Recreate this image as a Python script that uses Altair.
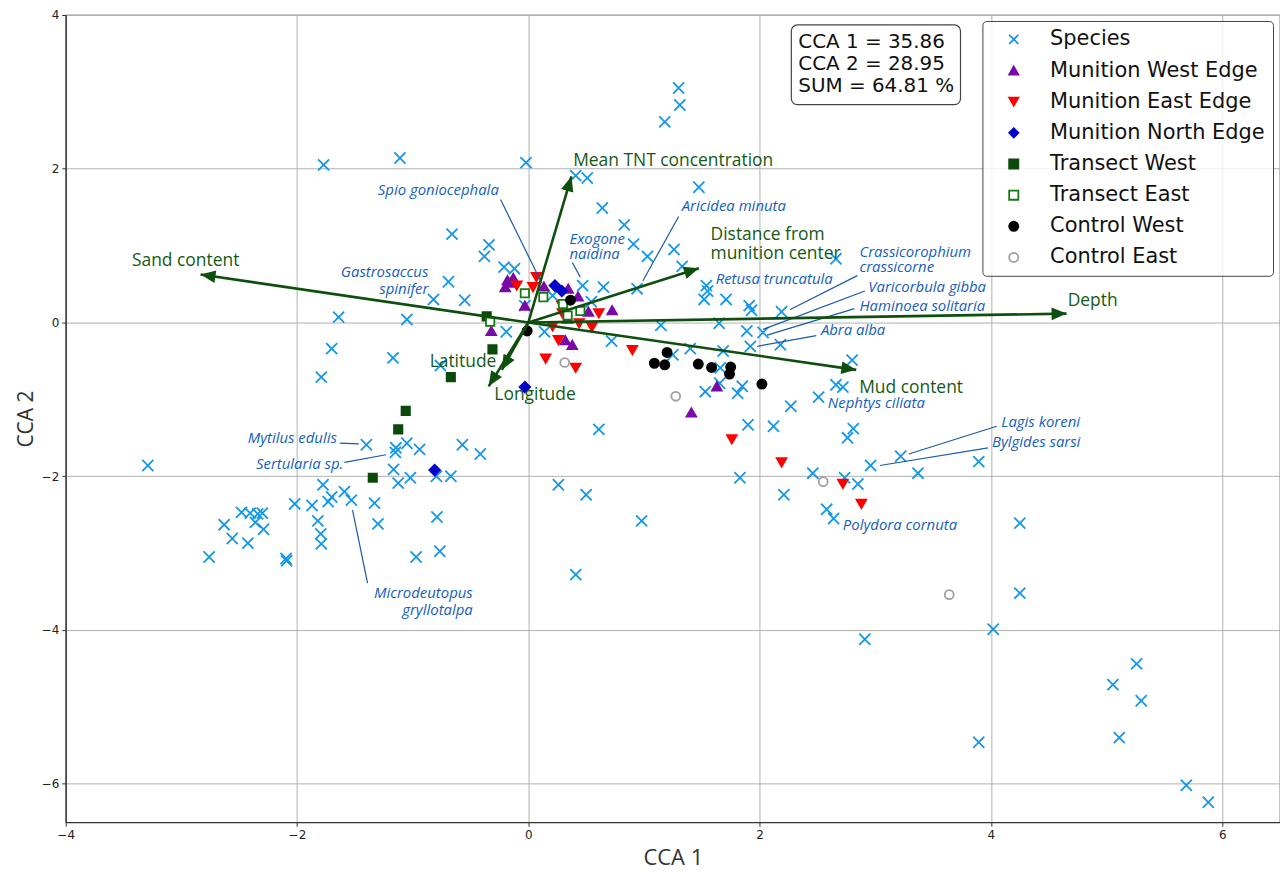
import math
import altair as alt
import pandas as pd

# ---------------- data ----------------
species_x = [1.30, 1.31, 1.18, -0.02, -1.11, -1.77, 0.41, 0.51, 1.475, 0.64,
             0.83, 0.91, 1.03, 1.26, 1.33, 2.66, 1.54, 1.55, 1.52, 1.71,
             1.91, 1.93, 2.19, 0.47, 0.65, 0.94, 0.545, 1.146, 1.65, 0.14,
             -0.66, -0.34, -0.38, -0.21, -0.12, -0.69, -0.82, -0.55, -1.64, -1.05,
             -0.03, -0.19, 0.72, 1.40, -0.76, 0.21,
             1.685, 1.92, 1.89, 2.03, 2.18, 1.25, 1.66, 1.655, 1.53, 1.85,
             1.81, 2.80, 2.66, 2.72, 2.51, 2.27, 1.90, 2.12, 2.81, 2.76,
             0.61, 3.22, 2.96, 3.37, 2.46, 1.83, 2.735, 2.85, 0.26, 0.50,
             2.21, 2.58, 2.64, 0.98, 0.41, 2.91,
             3.895, 4.25, 4.25, 4.02, 5.26, 5.055, 5.30, 5.11, 3.895, 5.69, 5.88,
             -1.70, -1.17, -1.79, -1.40, -1.145, -1.05, -1.15, -0.94, -0.57, -0.415,
             -3.29, -1.165, -1.02, -1.125, -0.795, -0.67, -1.775, -1.59, -1.53, -1.70,
             -1.73, -2.02, -1.87, -1.33, -1.30, -2.48, -2.405, -2.34, -2.30, -2.36,
             -2.63, -2.29, -2.56, -2.425, -1.82, -1.795, -1.79, -2.76, -2.095, -2.09,
             -0.79, -0.765, -0.97]
species_y = [3.05, 2.83, 2.61, 2.08, 2.14, 2.05, 1.91, 1.88, 1.76, 1.49,
             1.27, 1.02, 0.86, 0.95, 0.73, 0.83, 0.48, 0.41, 0.30, 0.30,
             0.22, 0.16, 0.14, 0.48, 0.46, 0.44, 0.27, -0.035, -0.01, -0.12,
             1.15, 1.01, 0.86, 0.72, 0.70, 0.53, 0.30, 0.29, 0.07, 0.04,
             0.22, -0.12, -0.24, -0.34, -0.56, 0.35,
             -0.37, -0.31, -0.11, -0.13, -0.29, -0.42, -0.59, -0.79, -0.90, -0.83,
             -0.92, -0.49, -0.81, -0.84, -0.97, -1.09, -1.33, -1.35, -1.38, -1.50,
             -1.39, -1.74, -1.86, -1.96, -1.96, -2.02, -2.02, -2.10, -2.11, -2.24,
             -2.24, -2.43, -2.55, -2.58, -3.28, -4.12,
             -1.81, -2.61, -3.52, -3.99, -4.44, -4.71, -4.92, -5.40, -5.46, -6.02, -6.24,
             -0.34, -0.46, -0.71, -1.59, -1.63, -1.57, -1.69, -1.65, -1.59, -1.71,
             -1.86, -1.91, -2.02, -2.09, -2.00, -2.00, -2.11, -2.20, -2.31, -2.27,
             -2.33, -2.36, -2.38, -2.35, -2.62, -2.47, -2.48, -2.49, -2.48, -2.60,
             -2.63, -2.69, -2.81, -2.87, -2.58, -2.75, -2.88, -3.05, -3.07, -3.10,
             -2.53, -2.975, -3.05]

west_edge_x = [-0.20, -0.15, -0.13, -0.18, -0.03, -0.32, 0.135, 0.345, 0.43, 0.52, 0.725, 0.34, 0.32, 0.38, 1.63, 1.41]
west_edge_y = [0.46, 0.52, 0.58, 0.55, 0.22, -0.11, 0.47, 0.44, 0.34, 0.14, 0.16, 0.05, -0.23, -0.29, -0.83, -1.17]

east_edge_x = [-0.10, 0.07, 0.04, 0.29, 0.295, 0.26, 0.15, 0.41, 0.61, 0.55, 0.44, 0.90, 0.21, 1.76, 2.19, 2.72, 2.88]
east_edge_y = [0.48, 0.59, 0.46, 0.22, 0.12, -0.23, -0.47, -0.59, 0.12, -0.06, -0.01, -0.36, -0.05, -1.52, -1.82, -2.10, -2.36]

north_edge_x = [0.23, 0.29, -0.03, -0.81]
north_edge_y = [0.48, 0.41, -0.84, -1.92]

transect_west_x = [-0.36, -0.31, -0.67, -1.06, -1.125, -1.345]
transect_west_y = [0.08, -0.35, -0.71, -1.15, -1.39, -2.02]

transect_east_x = [-0.33, -0.03, 0.13, 0.30, 0.45, 0.34]
transect_east_y = [0.01, 0.38, 0.33, 0.24, 0.15, 0.09]

control_west_x = [0.365, -0.01, 1.20, 1.09, 1.18, 1.47, 1.585, 1.75, 1.74, 2.02]
control_west_y = [0.29, -0.11, -0.39, -0.53, -0.55, -0.54, -0.585, -0.58, -0.67, -0.80]

control_east_x = [0.315, 1.275, 2.55, 3.64]
control_east_y = [-0.52, -0.96, -2.07, -3.54]

groups = ["Species", "Munition West Edge", "Munition East Edge", "Munition North Edge",
          "Transect West", "Transect East", "Control West", "Control East"]

# environmental vectors (arrow tips) and their label positions
env_names = ["Sand content", "Mean TNT concentration", "Distance from munition center",
             "Depth", "Mud content", "Latitude", "Longitude"]
env_x = [-2.834, 0.373, 1.475, 4.654, 2.836, -0.229, -0.343]
env_y = [0.624, 1.90, 0.707, 0.116, -0.616, -0.616, -0.83]
env_label_text = ["Sand content", "Mean TNT concentration", "Distance from\nmunition center",
                  "Depth", "Mud content", "Latitude", "Longitude"]
env_label_x = [-2.963, 1.253, 1.576, 4.88, 3.31, -0.565, 0.058]
env_label_y = [0.805, 2.106, 1.14, 0.28, -0.85, -0.52, -0.94]
env_label_align = ["center", "center", "left", "center", "center", "center", "center"]

# species annotations (y = first text line)
sp_label_text = ["Spio goniocephala", "Exogone\nnaidina", "Aricidea minuta", "Gastrosaccus\nspinifer",
                 "Crassicorophium\ncrassicorne", "Retusa truncatula", "Varicorbula gibba",
                 "Haminoea solitaria", "Abra alba", "Nephtys ciliata", "Lagis koreni",
                 "Bylgides sarsi", "Polydora cornuta", "Mytilus edulis", "Sertularia sp.",
                 "Microdeutopus\ngryllotalpa"]
sp_label_x = [-0.255, 0.356, 1.327, -0.864, 2.863, 1.62, 2.94, 2.863, 2.53, 2.59,
              4.09, 4.01, 2.72, -1.655, -1.60, -0.48]
sp_label_y = [1.72, 1.085, 1.52, 0.66, 0.917, 0.57, 0.465, 0.22, -0.10, -1.05,
              -1.30, -1.56, -2.64, -1.50, -1.84, -3.52]
sp_label_align = ["right", "left", "left", "right", "left", "left", "left", "left", "left", "left",
                  "left", "left", "left", "right", "right", "right"]

lead_x1 = [-0.24, 0.38, 1.30, 2.845, 2.91, 2.82, 2.49, 4.05, 3.975, -1.63, -1.59, -1.39]
lead_y1 = [1.60, 0.78, 1.38, 0.61, 0.41, 0.18, -0.17, -1.35, -1.63, -1.57, -1.82, -3.39]
lead_x2 = [0.115, 0.45, 0.99, 2.265, 2.03, 2.065, 1.98, 3.29, 3.04, -1.466, -1.23, -1.52]
lead_y2 = [0.515, 0.59, 0.54, 0.17, -0.09, -0.165, -0.31, -1.71, -1.86, -1.578, -1.72, -2.44]

box_lines = ["CCA 1 = 35.86", "CCA 2 = 28.95", "SUM = 64.81 %"]

# ---------------- styling ----------------
W, H = 1220, 811
X_DOM = [-4, 6.5]
Y_DOM = [-6.5, 4]
X_PATH = "M-1,-1L1,1M1,-1L-1,1"
shapes = [X_PATH, "triangle-up", "triangle-down", "diamond", "square", "square", "circle", "circle"]
strokes = ["#1597e8", "#7a0aa8", "#ff0000", "#0000cc", "#0a4a0a", "#137a13", "#000000", "#a0a0a0"]
fills = ["transparent", "#7a0aa8", "#ff0000", "#0000cc", "#0a4a0a", "#ffffff", "#000000", "#ffffff"]
sizes = [125, 95, 95, 115, 70, 70, 85, 80]
ARROW = "#0e4f0e"
ENV_TXT = "#145a14"
SP_TXT = "#1560bd"

series = [(groups[0], species_x, species_y), (groups[1], west_edge_x, west_edge_y),
          (groups[2], east_edge_x, east_edge_y), (groups[3], north_edge_x, north_edge_y),
          (groups[4], transect_west_x, transect_west_y), (groups[5], transect_east_x, transect_east_y),
          (groups[6], control_west_x, control_west_y), (groups[7], control_east_x, control_east_y)]
rows = []
for (g, xs, ys), sz in zip(series, sizes):
    for a, b in zip(xs, ys):
        rows.append({"group": g, "sz": sz, "x": a, "y": b})
pts = pd.DataFrame(rows)

sx, sy = W / (X_DOM[1] - X_DOM[0]), H / (Y_DOM[1] - Y_DOM[0])
env = pd.DataFrame({"name": env_names, "x": env_x, "y": env_y,
                    "x0": [0.0] * len(env_x), "y0": [0.0] * len(env_y)})
env["angle"] = [(math.degrees(math.atan2(a * sx, b * sy)) + 360) % 360 for a, b in zip(env_x, env_y)]
env_lab = pd.DataFrame({"t": env_label_text, "x": env_label_x, "y": env_label_y, "al": env_label_align})
sp_lab = pd.DataFrame({"t": sp_label_text, "x": sp_label_x, "y": sp_label_y, "al": sp_label_align})
leads = pd.DataFrame({"x1": lead_x1, "y1": lead_y1, "x2": lead_x2, "y2": lead_y2})

xs_ = alt.Scale(domain=X_DOM, nice=False, zero=False)
ys_ = alt.Scale(domain=Y_DOM, nice=False, zero=False)

x_axis = alt.Axis(values=[-4, -2, 0, 2, 4, 6], title="CCA 1", labelFlush=False, titlePadding=8)
y_axis = alt.Axis(values=[-6, -4, -2, 0, 2, 4], title="CCA 2", labelFlush=False, titlePadding=5,
                  titleFontSize=21)


def X(f):
    return alt.X(f, scale=xs_, axis=x_axis, title="CCA 1")


def Y(f):
    return alt.Y(f, scale=ys_, axis=y_axis, title="CCA 2")


legend = alt.Legend(title=None, orient="none", legendX=921, legendY=6, padding=8,
                    rowPadding=9.3, symbolOffset=13, labelOffset=26, labelFontSize=21,
                    labelFont="DejaVu Sans", labelColor="#111", labelLimit=400,
                    symbolSize=85, symbolStrokeWidth=1.8, strokeColor="#444",
                    fillColor="rgba(255,255,255,0.8)", cornerRadius=4)

points = alt.Chart(pts).mark_point(opacity=1, strokeWidth=1.8, clip=True).encode(
    x=X("x:Q"), y=Y("y:Q"),
    shape=alt.Shape("group:N", scale=alt.Scale(domain=groups, range=shapes), legend=legend),
    stroke=alt.Stroke("group:N", scale=alt.Scale(domain=groups, range=strokes), legend=legend),
    fill=alt.Fill("group:N", scale=alt.Scale(domain=groups, range=fills), legend=legend),
    size=alt.Size("sz:Q", scale=None),
)

leaders = alt.Chart(leads).mark_rule(color="#1a5aa8", strokeWidth=1.2).encode(
    x=X("x1:Q"), y=Y("y1:Q"), x2="x2:Q", y2="y2:Q")

arrow_lines = alt.Chart(env).mark_rule(color=ARROW, strokeWidth=2.6).encode(
    x=X("x0:Q"), y=Y("y0:Q"), x2="x:Q", y2="y:Q")

arrow_heads = alt.Chart(env).mark_point(shape="M0,0L-0.85,2L0.85,2Z", filled=True, opacity=1,
                                        color=ARROW, size=225).encode(
    x=X("x:Q"), y=Y("y:Q"), angle=alt.Angle("angle:Q", scale=None))

env_c = alt.Chart(env_lab).transform_filter(alt.datum.al == "center").mark_text(
    font="Open Sans", fontSize=17.5, color=ENV_TXT, align="center", baseline="middle").encode(
    x=X("x:Q"), y=Y("y:Q"), text="t:N")
env_l = alt.Chart(env_lab).transform_filter(alt.datum.al == "left").mark_text(
    font="Open Sans", fontSize=17.5, color=ENV_TXT, align="left", baseline="middle",
    lineBreak="\n", lineHeight=19).encode(
    x=X("x:Q"), y=Y("y:Q"), text="t:N")

sp_l = alt.Chart(sp_lab).transform_filter(alt.datum.al == "left").mark_text(
    font="Open Sans", fontStyle="italic", fontSize=15, color=SP_TXT, align="left",
    baseline="middle", lineBreak="\n", lineHeight=15).encode(
    x=X("x:Q"), y=Y("y:Q"), text="t:N")
sp_r = alt.Chart(sp_lab).transform_filter(alt.datum.al == "right").mark_text(
    font="Open Sans", fontStyle="italic", fontSize=15, color=SP_TXT, align="right",
    baseline="middle", lineBreak="\n", lineHeight=17).encode(
    x=X("x:Q"), y=Y("y:Q"), text="t:N")

box_df = pd.DataFrame({"k": [0]})
box = alt.Chart(box_df).mark_rect(fill="white", fillOpacity=0.85, stroke="#444", strokeWidth=1.2,
                                  cornerRadius=6).encode(
    x=alt.value(729), x2=alt.value(899), y=alt.value(10), y2=alt.value(90))
box_text = alt.Chart(box_df).mark_text(text=box_lines, font="DejaVu Sans", fontSize=20,
                                       color="#111", align="left", baseline="top",
                                       lineHeight=22.2).encode(
    x=alt.value(736), y=alt.value(17))

chart = alt.layer(points, leaders, arrow_lines, arrow_heads, env_c, env_l, sp_l, sp_r, box, box_text).properties(
    width=W, height=H,
    autosize=alt.AutoSizeParams(type="none"),
    padding={"left": 58, "top": 5, "right": 0, "bottom": 48},
).configure_view(stroke="#333", strokeWidth=1.2).configure_axis(
    grid=True, gridColor="#b0b0b0", gridWidth=1, domainColor="#333", domainWidth=1.2,
    tickColor="#333", tickSize=4, labelFont="DejaVu Sans", labelFontSize=12, labelColor="#222",
    labelPadding=3, titleFont="Open Sans", titleFontSize=22, titleFontWeight="normal",
    titleColor="#333")

chart.save("out.html", embed_options={"renderer": "svg", "actions": False})
